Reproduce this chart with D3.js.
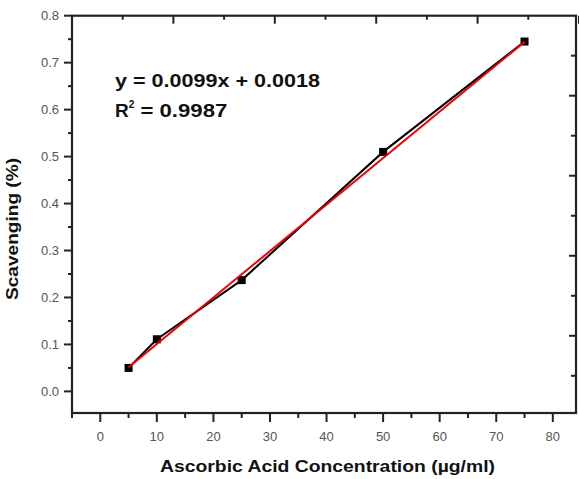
<!DOCTYPE html>
<html>
<head>
<meta charset="utf-8">
<script src="https://cdn.jsdelivr.net/npm/d3@7"></script>
<style>
  body { margin: 0; background: #fff; }
  svg { display: block; font-family: Arial, "Liberation Sans", sans-serif; }
</style>
</head>
<body>
<div id="chart"></div>
<script>
// measured points
const concentration = [5, 10, 25, 50, 75];
const scavenging = [0.050, 0.111, 0.237, 0.510, 0.745];

// linear fit drawn in red (end points)
const fitX = [5, 75];
const fitY = [0.0513, 0.7443];

const xTicks = [0, 10, 20, 30, 40, 50, 60, 70, 80];
const yTicks = [0.0, 0.1, 0.2, 0.3, 0.4, 0.5, 0.6, 0.7, 0.8];
const eqLines = ['y = 0.0099x + 0.0018', 'R', ' = 0.9987'];

const width = 579, height = 479;
const margin = { top: 15.7, right: 3, bottom: 66, left: 72 };
const innerW = width - margin.left - margin.right;
const innerH = height - margin.top - margin.bottom;

const svg = d3.select('#chart').append('svg')
  .attr('width', width)
  .attr('height', height);

const chart = svg.append('g')
  .attr('transform', `translate(${margin.left},${margin.top})`);

const x = d3.scaleLinear().domain([-5, 84.1]).range([0, innerW]);
const y = d3.scaleLinear().domain([-0.046, 0.8]).range([innerH, 0]);

// mirror axes on top/right use their own spacing in the original
const xTop = d3.scaleLinear().domain([0, 10]).range([0, 507]);
const yRight = d3.scaleLinear().domain([0, 9.93]).range([0, innerH]);

const tickColor = '#222';
const labelColor = '#555';

// bottom axis
const xAxisG = chart.append('g').attr('transform', `translate(0,${innerH})`);
const xMinor = d3.range(-5, 85, 5);
xAxisG.selectAll('.minor').data(xMinor).join('line')
  .attr('x1', d => x(d)).attr('x2', d => x(d))
  .attr('y1', 0).attr('y2', d => (d % 10 === 0 ? 9 : 5))
  .attr('stroke', tickColor).attr('stroke-width', 2);
xAxisG.selectAll('.lab').data(xTicks).join('text')
  .attr('x', d => x(d)).attr('y', 28)
  .attr('text-anchor', 'middle')
  .attr('font-size', 13).attr('fill', labelColor)
  .text(d => d);

// left axis
const yAxisG = chart.append('g');
const yMinor = d3.range(0, 17).map(i => i * 0.05);
yAxisG.selectAll('line').data(yMinor).join('line')
  .attr('y1', d => y(d)).attr('y2', d => y(d))
  .attr('x1', 0).attr('x2', (d, i) => (i % 2 === 0 ? -8 : -4))
  .attr('stroke', tickColor).attr('stroke-width', 2);
yAxisG.selectAll('text').data(yTicks).join('text')
  .attr('x', -13).attr('y', d => y(d))
  .attr('dy', '0.35em')
  .attr('text-anchor', 'end')
  .attr('font-size', 13).attr('fill', labelColor)
  .text(d => d.toFixed(1));

// top mirror ticks (inward)
chart.append('g').selectAll('line').data(d3.range(0, 11)).join('line')
  .attr('x1', d => xTop(d)).attr('x2', d => xTop(d))
  .attr('y1', 0).attr('y2', d => (d % 2 === 0 ? 8 : 4))
  .attr('stroke', tickColor).attr('stroke-width', 2);

// right mirror ticks (inward)
chart.append('g').selectAll('line').data(d3.range(1, 10)).join('line')
  .attr('y1', d => yRight(d)).attr('y2', d => yRight(d))
  .attr('x1', innerW).attr('x2', d => innerW - (d % 2 === 0 ? 7 : 5))
  .attr('stroke', tickColor).attr('stroke-width', 2);

// frame
chart.append('rect')
  .attr('x', 0).attr('y', 0)
  .attr('width', innerW).attr('height', innerH)
  .attr('fill', 'none').attr('stroke', '#222').attr('stroke-width', 2.2);

// data line + markers
const pts = concentration.map((c, i) => [c, scavenging[i]]);
chart.append('path')
  .datum(pts)
  .attr('fill', 'none').attr('stroke', '#000').attr('stroke-width', 2)
  .attr('d', d3.line().x(d => x(d[0])).y(d => y(d[1])));

chart.selectAll('.pt').data(pts).join('rect')
  .attr('class', 'pt')
  .attr('x', d => x(d[0]) - 4).attr('y', d => y(d[1]) - 4)
  .attr('width', 8).attr('height', 8)
  .attr('fill', '#000');

// fit line
chart.append('path')
  .datum(fitX.map((v, i) => [v, fitY[i]]))
  .attr('fill', 'none').attr('stroke', '#ee0000').attr('stroke-width', 2)
  .attr('d', d3.line().x(d => x(d[0])).y(d => y(d[1])));

// equation (original glyphs are wide, so stretch to measured width)
const eq = svg.append('g').attr('font-weight', 'bold').attr('font-size', 19).attr('fill', '#111');
eq.append('text').attr('x', 115).attr('y', 87)
  .attr('textLength', 205).attr('lengthAdjust', 'spacingAndGlyphs')
  .text(eqLines[0]);
const r2 = eq.append('text').attr('x', 115).attr('y', 117);
r2.append('tspan').text(eqLines[1]);
r2.append('tspan').attr('font-size', 10).attr('dy', -9).text('2');
r2.append('tspan').attr('dy', 9).attr('textLength', 93).attr('lengthAdjust', 'spacingAndGlyphs').text(eqLines[2]);

// axis titles
svg.append('text')
  .attr('x', 160).attr('y', 472)
  .attr('textLength', 335).attr('lengthAdjust', 'spacingAndGlyphs')
  .attr('font-weight', 'bold').attr('font-size', 17).attr('fill', '#111')
  .text('Ascorbic Acid Concentration (µg/ml)');

svg.append('text')
  .attr('transform', 'translate(18,300) rotate(-90)')
  .attr('textLength', 142).attr('lengthAdjust', 'spacingAndGlyphs')
  .attr('font-weight', 'bold').attr('font-size', 17).attr('fill', '#111')
  .text('Scavenging (%)');
</script>
</body>
</html>
